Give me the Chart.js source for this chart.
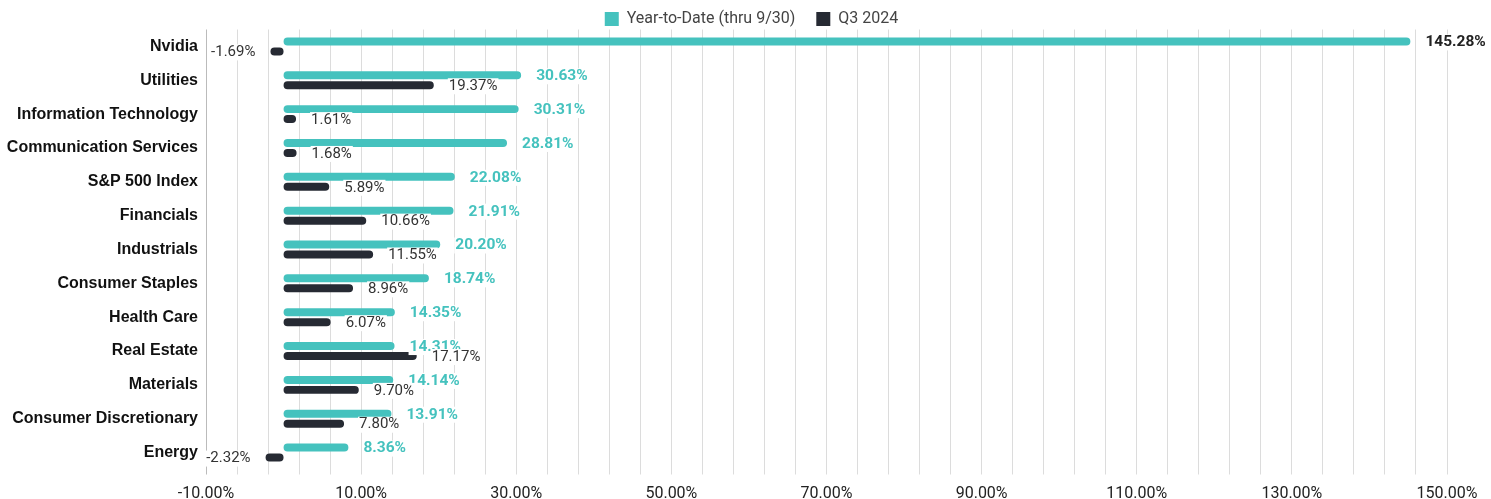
<!DOCTYPE html>
<html lang="en">

<head>
    <meta charset="UTF-8">
    <title>Sector returns 2024</title>
    <style>
        html, body { margin: 0; padding: 0; background: #fff; }
    </style>
</head>

<body>
    <canvas id="myChart" width="1491" height="499"></canvas>

    <script src="https://cdn.jsdelivr.net/npm/chart.js"></script>

    <script>
        const categories = ['Nvidia', 'Utilities', 'Information Technology', 'Communication Services', 'S&P 500 Index',
            'Financials', 'Industrials', 'Consumer Staples', 'Health Care', 'Real Estate', 'Materials',
            'Consumer Discretionary', 'Energy']
        const ytdValues = [145.28, 30.63, 30.31, 28.81, 22.08, 21.91, 20.20, 18.74, 14.35, 14.31, 14.14, 13.91, 8.36]
        const q3Values = [-1.69, 19.37, 1.61, 1.68, 5.89, 10.66, 11.55, 8.96, 6.07, 17.17, 9.70, 7.80, -2.32]
        const seriesNames = ['Year-to-Date (thru 9/30)', 'Q3 2024']
        const xTickLabels = [-10, 10, 30, 50, 70, 90, 110, 130, 150]
        const gridStep = 4

        const teal = '#45c2be'
        const dark = '#262a33'

        // draws the value next to the end of each bar, on a white box
        const barLabels = {
            id: 'barLabels',
            afterLayout(chart) {
                // legend sits a bit right of the canvas centre
                chart.legend.left += 28
                chart.legend.right += 28
            },
            afterDatasetsDraw(chart) {
                const c = chart.ctx
                chart.data.datasets.forEach((ds, di) => {
                    const meta = chart.getDatasetMeta(di)
                    meta.data.forEach((bar, i) => {
                        const v = ds.data[i]
                        const txt = v.toFixed(2) + '%'
                        const bold = di == 0
                        c.save()
                        c.font = bold ? 'bold 15.5px Roboto' : '15px Roboto'
                        const w = c.measureText(txt).width
                        let x = v >= 0 ? bar.x + 15 : bar.x - 15 - w
                        const y = bar.y + 1
                        c.fillStyle = '#fff'
                        c.fillRect(x - 1, y - 8, w + 2, 16)
                        c.fillStyle = bold ? (i == 0 ? '#222' : teal) : '#333'
                        c.textBaseline = 'middle'
                        c.textAlign = 'left'
                        c.fillText(txt, x, y)
                        c.restore()
                    })
                })
            }
        }

        const ctx = document.getElementById('myChart')
        myChart = new Chart(ctx, {
            type: 'bar',
            data: {
                labels: categories,
                datasets: [{
                    label: seriesNames[0],
                    data: ytdValues,
                    backgroundColor: teal,
                    borderRadius: 4,
                    borderSkipped: false
                }, {
                    label: seriesNames[1],
                    data: q3Values,
                    backgroundColor: dark,
                    borderRadius: 4,
                    borderSkipped: false
                }]
            },
            options: {
                indexAxis: 'y',
                responsive: false,
                animation: false,
                categoryPercentage: 0.59,
                barPercentage: 0.8,
                layout: { padding: { top: -10, right: 44, left: 0, bottom: 0 } },
                plugins: {
                    legend: {
                        maxHeight: 39.5,
                        labels: {
                            boxWidth: 14, boxHeight: 14, padding: 21,
                            color: '#444', font: { family: 'Roboto', size: 16 }
                        }
                    },
                    tooltip: { enabled: false }
                },
                scales: {
                    x: {
                        min: -10,
                        max: 150,
                        afterBuildTicks: s => {
                            const t = []
                            for (let v = s.min; v <= s.max; v += gridStep) t.push({ value: v })
                            s.ticks = t
                        },
                        afterFit: s => { s.height = 29.5 },
                        grid: {
                            color: c => c.tick && c.tick.value == -10 ? '#bbb' : '#dcdcdc',
                            tickLength: 5
                        },
                        border: { display: false },
                        ticks: {
                            autoSkip: false, maxRotation: 0, padding: 9.5,
                            color: '#222', font: { family: 'Roboto', size: 16 },
                            callback: v => xTickLabels.includes(v) ? v.toFixed(2) + '%' : ''
                        }
                    },
                    y: {
                        afterFit: s => { s.width = 206 },
                        grid: { display: false, drawTicks: false },
                        border: { display: false },
                        ticks: {
                            padding: 8, color: '#111',
                            font: { family: "'Liberation Sans', Arial", size: 16, weight: 'bold' }
                        }
                    }
                }
            },
            plugins: [barLabels]
        })
    </script>
</body>

</html>
